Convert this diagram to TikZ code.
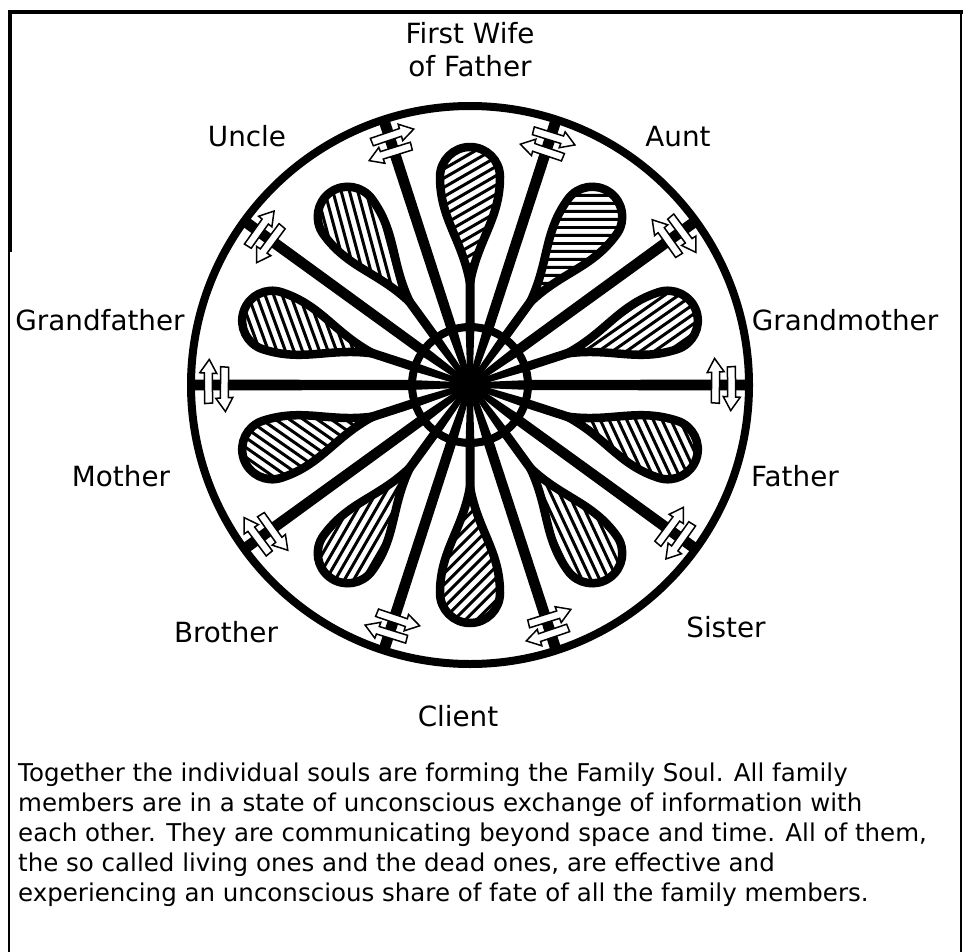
\documentclass[tikz,border=0pt]{standalone}
\usepackage{fontspec}
\setmainfont{DejaVu Sans}
\usetikzlibrary{calc}
\newcommand\dblarrows[1]{%
  \pgfmathsetmacro\aa{#1+4.0}\pgfmathsetmacro\ab{#1-2.6}\pgfmathsetmacro\ac{#1-5.6}%
  \pgfmathsetmacro\ba{#1-4.2}\pgfmathsetmacro\bb{#1+3.0}\pgfmathsetmacro\bc{#1+6.2}%
  \draw[arr] (\ba:250) -- (\bb:250) -- (\bb:254.5) -- (\bc:246) -- (\bb:237.5) -- (\bb:242) -- (\ba:242) -- cycle;
  \draw[arr] (\aa:266) -- (\ab:266) -- (\ab:270.5) -- (\ac:262) -- (\ab:253.5) -- (\ab:258) -- (\aa:258) -- cycle;
}
\begin{document}
\begin{tikzpicture}[x=1pt,y=1pt,
  lbl/.style={font=\fontsize{27.8}{33}\selectfont, inner sep=0pt},
  para/.style={font=\fontsize{24.5}{30}\selectfont, inner sep=0pt, anchor=base west},
  lobeline/.style={line width=8.5pt, line join=round},
  hatchline/.style={line width=3pt},
  arr/.style={draw=black, fill=white, line width=1.5pt, line join=miter},
  ]
\useasboundingbox (0,0) rectangle (963,-952);
% frame
\draw[line width=4pt] (10,-252) -- (10,-12) -- (963,-12);
\draw[line width=2pt] (9,-250) -- (9,-952);
\draw[line width=2pt] (961,-12) -- (961,-952);

\begin{scope}[shift={(470,-385)}]
  % lobes with hatching
  \foreach \t/\h in {90/30, 54/0, 18/35, -18/115, -54/115, -90/45, -126/60, -162/145, 162/110, 126/105}{
    \begin{scope}[rotate=\t]
      \begin{scope}
        \clip (102,0) .. controls (146,8) and (166,30) .. (208,30)
          arc[start angle=90,end angle=-90,radius=30]
          .. controls (166,-30) and (146,-8) .. (102,0) -- cycle;
        \pgfmathsetmacro\al{\h-\t}
        \foreach \k in {-10,...,10}{
          \draw[hatchline] ($(185,0)+(\al+90:\k*8)+(\al:-85)$) -- ($(185,0)+(\al+90:\k*8)+(\al:85)$);
        }
      \end{scope}
      \draw[lobeline] (102,0) .. controls (146,8) and (166,30) .. (208,30)
          arc[start angle=90,end angle=-90,radius=30]
          .. controls (166,-30) and (146,-8) .. (102,0) -- cycle;
      \fill (0,-2.5) -- (60,-4.5) -- (110,-4.5) -- (110,4.5) -- (60,4.5) -- (0,2.5) -- cycle;
    \end{scope}
  }
  % spokes
  \foreach \t in {0,36,...,324}{
    \fill[rotate=\t] (0,-2.5) -- (60,-5) -- (279,-5.5) -- (279,5.5) -- (60,5) -- (0,2.5) -- cycle;
  }
  \draw[line width=8pt] (0,0) circle[radius=58];
  \draw[line width=8pt] (0,0) circle[radius=279];
  \fill (0,0) circle[radius=9];
  % exchange arrows
  \foreach \t in {0,36,...,324}{ \dblarrows{\t} }
\end{scope}

% labels
\node[lbl, align=center, anchor=north] (wife) at (470,-22) {First Wife\\of Father};
\node[lbl, anchor=base] (uncle) at (247,-147) {Uncle};
\node[lbl, anchor=base] (aunt) at (678,-147) {Aunt};
\node[lbl, anchor=base] (gfather) at (100,-330) {Grandfather};
\node[lbl, anchor=base] (gmother) at (845,-330) {Grandmother};
\node[lbl, anchor=base] (mother) at (121,-486) {Mother};
\node[lbl, anchor=base] (father) at (795,-486) {Father};
\node[lbl, anchor=base] (brother) at (226,-642) {Brother};
\node[lbl, anchor=base] (sister) at (726,-637) {Sister};
\node[lbl, anchor=base] (client) at (458,-726) {Client};

% caption
\node[para] (p1) at (18,-781) {Together the individual souls are forming the Family Soul. All family};
\node[para] (p2) at (18,-811) {members are in a state of unconscious exchange of information with};
\node[para] (p3) at (18,-841) {each other. They are communicating beyond space and time. All of them,};
\node[para] (p4) at (18,-871) {the so called living ones and the dead ones, are effective and};
\node[para] (p5) at (18,-901) {experiencing an unconscious share of fate of all the family members.};
\end{tikzpicture}
\end{document}
